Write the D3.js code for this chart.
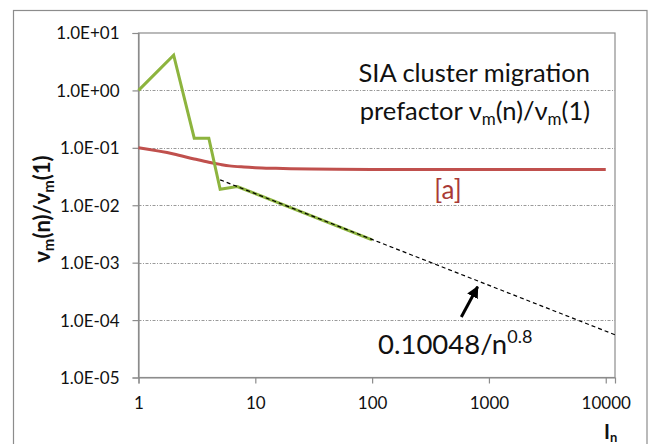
<!DOCTYPE html>
<html><head><meta charset="utf-8">
<script src="https://cdn.jsdelivr.net/npm/d3@7"></script>
<style>
body{margin:0;background:#fff;}
text{font-family:Lato,"Open Sans",sans-serif;}
</style></head>
<body><svg id="c" width="652" height="444"></svg>
<script>
// ---- data ----
const xTicks = [1, 10, 100, 1000, 10000];
const xTickLabels = ["1", "10", "100", "1000", "10000"];
const yTicks = [1e-5, 1e-4, 1e-3, 1e-2, 1e-1, 1, 10];
const yTickLabels = ["1.0E-05", "1.0E-04", "1.0E-03", "1.0E-02", "1.0E-01", "1.0E+00", "1.0E+01"];

const greenN = [1, 2, 3, 4, 5, 7, 100];
const greenV = [1.0, 4.1, 0.147, 0.147, 0.019, 0.0212, 0.0025];

const redN = [1, 2, 3, 4, 5, 6, 8, 10, 15, 20, 30, 50, 100, 1000, 10000];
const redV = [0.1, 0.078, 0.064, 0.056, 0.0515, 0.0485, 0.0463, 0.0452, 0.0440, 0.0433, 0.0427, 0.0423, 0.0421, 0.0421, 0.0421];

const fitN = [5, 12000];
const fitV = [0.0277, 0.0000555];

const arrowN = [580, 800];
const arrowV = [1.13e-4, 3.8e-4];

// ---- chart ----
const svg = d3.select("#c");
const L = 138.5, R = 615, T = 33, B = 377.5;
const x = d3.scaleLog().domain([1, 12000]).range([L, R]);
const y = d3.scaleLog().domain([1e-5, 10]).range([B, T]);

// outer frame
svg.append("rect").attr("x", 13.5).attr("y", 10.5).attr("width", 633.5).attr("height", 460)
  .attr("fill", "none").attr("stroke", "#8c8c8c").attr("stroke-width", 1.2);

// gridlines
svg.append("g").selectAll("line").data(yTicks.filter(v => v > 1e-5 && v < 10)).join("line")
  .attr("x1", L).attr("x2", R).attr("y1", d => Math.round(y(d)) + 0.5).attr("y2", d => Math.round(y(d)) + 0.5)
  .attr("stroke", "#9a9a9a").attr("stroke-width", 1).attr("stroke-dasharray", "3,1.5,1,1.5");

// plot box
svg.append("rect").attr("x", L).attr("y", T).attr("width", R - L).attr("height", B - T)
  .attr("fill", "none").attr("stroke", "#8c8c8c").attr("stroke-width", 1.2);

// axes
const yAxis = d3.axisLeft(y).tickValues(yTicks).tickSize(6).tickFormat((d, i) => yTickLabels[i]);
const gy = svg.append("g").attr("transform", `translate(${L},0)`).call(yAxis);
gy.select(".domain").attr("stroke", "#8c8c8c").attr("stroke-width", 1.2);
gy.selectAll(".tick line").attr("stroke", "#8c8c8c").attr("stroke-width", 1.2);
gy.selectAll(".tick text").attr("font-family", "Lato").attr("font-size", 17).attr("fill", "#111")
  .attr("x", -19).attr("dy", "0.35em");

const xAxis = d3.axisBottom(x).tickValues(xTicks).tickSize(6).tickFormat((d, i) => xTickLabels[i]);
const gx = svg.append("g").attr("transform", `translate(0,${B})`).call(xAxis);
gx.select(".domain").attr("stroke", "#8c8c8c").attr("stroke-width", 1.2);
gx.selectAll(".tick line").attr("stroke", "#8c8c8c").attr("stroke-width", 1.2);
gx.selectAll(".tick text").attr("font-family", "Lato").attr("font-size", 17).attr("fill", "#111")
  .attr("y", 31).attr("dy", 0);

const line = d3.line().x(d => x(d[0])).y(d => y(d[1]));
const lineSmooth = d3.line().x(d => x(d[0])).y(d => y(d[1])).curve(d3.curveMonotoneX);

// red
svg.append("path").datum(redN.map((n, i) => [n, redV[i]])).attr("d", lineSmooth)
  .attr("fill", "none").attr("stroke", "#c0504d").attr("stroke-width", 3);
// green
svg.append("path").datum(greenN.map((n, i) => [n, greenV[i]])).attr("d", line)
  .attr("fill", "none").attr("stroke", "#8db43e").attr("stroke-width", 3).attr("stroke-linejoin", "miter");
// fit dashed
svg.append("path").datum(fitN.map((n, i) => [n, fitV[i]])).attr("d", line)
  .attr("fill", "none").attr("stroke", "#000").attr("stroke-width", 1.2).attr("stroke-dasharray", "4,3");

// arrow
svg.append("defs").append("marker").attr("id", "ah").attr("viewBox", "0 0 10 10")
  .attr("refX", 9).attr("refY", 5).attr("markerWidth", 4).attr("markerHeight", 4)
  .attr("orient", "auto").attr("markerUnits", "strokeWidth")
  .append("path").attr("d", "M0,0 L10,5 L0,10 z").attr("fill", "#000");
svg.append("line")
  .attr("x1", x(arrowN[0])).attr("y1", y(arrowV[0]))
  .attr("x2", x(arrowN[1])).attr("y2", y(arrowV[1]))
  .attr("stroke", "#000").attr("stroke-width", 3).attr("marker-end", "url(#ah)");

// texts
svg.append("text").attr("x", 590).attr("y", 82).attr("text-anchor", "end")
  .attr("font-size", 25.5).attr("fill", "#111").text("SIA cluster migration");
const t2 = svg.append("text").attr("x", 590).attr("y", 120).attr("text-anchor", "end")
  .attr("font-size", 25.5).attr("fill", "#111");
t2.append("tspan").text("prefactor ν");
t2.append("tspan").attr("font-size", 17).attr("dy", 5).text("m");
t2.append("tspan").attr("dy", -5).text("(n)/ν");
t2.append("tspan").attr("font-size", 17).attr("dy", 5).text("m");
t2.append("tspan").attr("dy", -5).text("(1)");

svg.append("text").attr("x", 448).attr("y", 199).attr("text-anchor", "middle")
  .attr("font-size", 26).attr("fill", "#a93a36").text("[a]");

const t3 = svg.append("text").attr("x", 378).attr("y", 354).attr("font-size", 27.5).attr("fill", "#111");
t3.append("tspan").text("0.10048/n");
t3.append("tspan").attr("font-size", 18).attr("dy", -11).text("0.8");

// y label
const yl = svg.append("text").attr("transform", "translate(50,209) rotate(-90)").attr("text-anchor", "middle")
  .attr("font-size", 22).attr("font-weight", "bold").attr("fill", "#111");
yl.append("tspan").text("ν");
yl.append("tspan").attr("font-size", 15).attr("dy", 4).text("m");
yl.append("tspan").attr("dy", -4).text("(n)/ν");
yl.append("tspan").attr("font-size", 15).attr("dy", 4).text("m");
yl.append("tspan").attr("dy", -4).text("(1)");

// x label
const xl = svg.append("text").attr("x", 604).attr("y", 439).attr("font-size", 20)
  .attr("font-weight", "bold").attr("fill", "#111");
xl.append("tspan").text("I");
xl.append("tspan").attr("font-size", 13).attr("dy", 3).text("n");
</script></body></html>
